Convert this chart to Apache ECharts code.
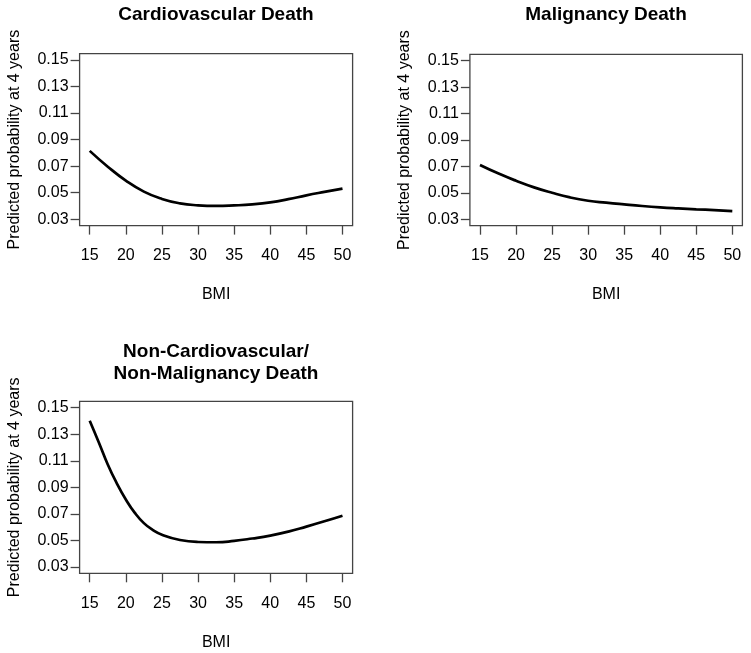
<!DOCTYPE html>
<html>
<head>
<meta charset="utf-8">
<script src="https://cdn.jsdelivr.net/npm/echarts@6/dist/echarts.min.js"></script>
<style>html,body{margin:0;padding:0;background:#fff}#c{width:751px;height:653px}</style>
</head>
<body>
<div id="c"></div>
<script>
var titles = ["Cardiovascular Death", "Malignancy Death", "Non-Cardiovascular/\nNon-Malignancy Death"];
var xTicks = [15, 20, 25, 30, 35, 40, 45, 50];
var yTicks = [0.03, 0.05, 0.07, 0.09, 0.11, 0.13, 0.15];
var xName = "BMI";
var yName = "Predicted probability at 4 years";

var bmiA = [15, 17.5, 20, 22.5, 25, 27.5, 30, 32.5, 35, 37.5, 40, 42.5, 45, 47.5, 50];
var cvDeath = [0.0815, 0.0696, 0.0591, 0.0508, 0.0453, 0.0420, 0.0405, 0.0400, 0.0404, 0.0412, 0.0427, 0.0451, 0.0480, 0.0506, 0.0531];
var malDeath = [0.0711, 0.0648, 0.0592, 0.0542, 0.0501, 0.0466, 0.0441, 0.0426, 0.0413, 0.0401, 0.0391, 0.0383, 0.0376, 0.0370, 0.0363];
var bmiB = [15, 16.25, 17.5, 18.75, 20, 21.25, 22.5, 23.75, 25, 27.5, 30, 32.5, 35, 37.5, 40, 42.5, 45, 47.5, 50];
var otherDeath = [0.1402, 0.1240, 0.1072, 0.0930, 0.0808, 0.0707, 0.0630, 0.0578, 0.0543, 0.0503, 0.0488, 0.0486, 0.0496, 0.0514, 0.0536, 0.0566, 0.0604, 0.0644, 0.0686];

var FONT = "'Liberation Sans', Arial, sans-serif";
var grids = [
  {left: 79.6, top: 53.6, width: 273, height: 172},
  {left: 469.9, top: 54.4, width: 272.5, height: 171.3},
  {left: 79.6, top: 401.3, width: 273, height: 172}
];
var titlePos = [[216, 15], [606, 15], [216, 362.5]];

function pairs(xs, ys) { return xs.map(function (x, i) { return [x, ys[i]]; }); }
var seriesData = [pairs(bmiA, cvDeath), pairs(bmiA, malDeath), pairs(bmiB, otherDeath)];

var option = {
  animation: false,
  backgroundColor: '#fff',
  grid: grids.map(function (g) {
    return {left: g.left, top: g.top, width: g.width, height: g.height, show: true,
      borderColor: '#444', borderWidth: 1.3, backgroundColor: 'transparent', containLabel: false};
  }),
  xAxis: grids.map(function (g, i) {
    return {
      type: 'value', gridIndex: i, min: 13.6, max: 51.4,
      name: xName, nameLocation: 'middle', nameGap: 61, nameMoveOverlap: false,
      nameTextStyle: {fontFamily: FONT, fontSize: 16, color: '#000'},
      axisLine: {show: false},
      axisTick: {show: true, length: 9, inside: false, customValues: xTicks, lineStyle: {color: '#444', width: 1.3}},
      axisLabel: {show: true, margin: 22, customValues: xTicks, fontFamily: FONT, fontSize: 16, color: '#000'},
      splitLine: {show: false}
    };
  }),
  yAxis: grids.map(function (g, i) {
    return {
      type: 'value', gridIndex: i, min: 0.0252, max: 0.1548,
      name: yName, nameLocation: 'middle', nameGap: 57, nameMoveOverlap: false,
      nameTextStyle: {fontFamily: FONT, fontSize: 16, color: '#000'},
      axisLine: {show: false},
      axisTick: {show: true, length: 9, inside: false, customValues: yTicks, lineStyle: {color: '#444', width: 1.3}},
      axisLabel: {show: true, margin: 11, customValues: yTicks, fontFamily: FONT, fontSize: 16, color: '#000',
        formatter: function (v) { return v.toFixed(2); }},
      splitLine: {show: false}
    };
  }),
  series: seriesData.map(function (d, i) {
    return {type: 'line', xAxisIndex: i, yAxisIndex: i, data: d, smooth: true,
      showSymbol: false, symbol: 'none', lineStyle: {color: '#000', width: 2.7}, silent: true};
  }),
  graphic: titles.map(function (t, i) {
    return {type: 'text', x: titlePos[i][0], y: titlePos[i][1],
      style: {text: t, align: 'center', verticalAlign: 'middle', lineHeight: 22,
        font: 'bold 19px ' + FONT, fill: '#000'}};
  })
};

var chart = echarts.init(document.getElementById('c'), null, {renderer: 'canvas'});
chart.setOption(option);
</script>
</body>
</html>
